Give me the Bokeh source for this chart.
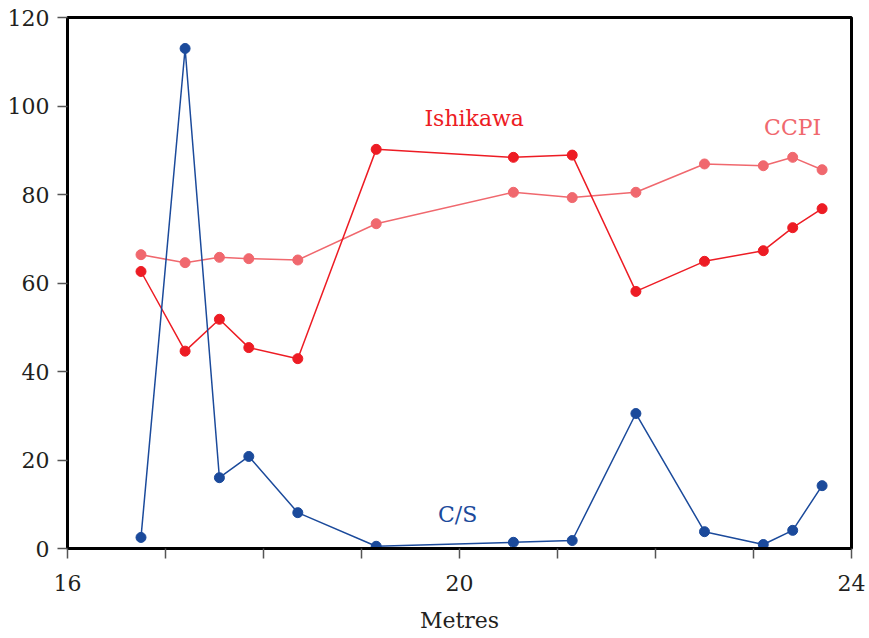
from bokeh.plotting import figure
from bokeh.models import FixedTicker, Label, Range1d
from bokeh.embed import file_html
from bokeh.resources import INLINE

depth = [16.75, 17.2, 17.55, 17.85, 18.35, 19.15, 20.55, 21.15, 21.8, 22.5, 23.1, 23.4, 23.7]
cs = [2.5, 113.0, 16.0, 20.8, 8.1, 0.5, 1.4, 1.8, 30.5, 3.8, 0.9, 4.1, 14.2]
ishikawa = [62.6, 44.6, 51.8, 45.4, 42.9, 90.2, 88.4, 88.9, 58.1, 64.9, 67.3, 72.5, 76.8]
ccpi = [66.4, 64.6, 65.8, 65.5, 65.2, 73.4, 80.5, 79.3, 80.5, 86.9, 86.5, 88.4, 85.6]

x_major = [16, 20, 24]
x_minor = [17, 18, 19, 21, 22, 23]
y_ticks = [0, 20, 40, 60, 80, 100, 120]

BLUE = "#1b4a9b"
RED = "#ed1c24"
PINK = "#f0686e"
FONT = "DejaVu Serif"
FS = "22px"
TXT = "#231f20"

p = figure(width=869, height=638, output_backend="svg", toolbar_location=None,
           x_range=Range1d(16, 24), y_range=Range1d(0, 120),
           min_border_left=67, min_border_right=18, min_border_top=17, min_border_bottom=90)

p.grid.visible = False
p.outline_line_color = "black"
p.outline_line_width = 3
p.background_fill_color = "white"
p.border_fill_color = "white"

for ax in (p.xaxis[0], p.yaxis[0]):
    ax.axis_line_color = "black"
    ax.axis_line_width = 3
    ax.major_tick_line_color = "#555555"
    ax.major_tick_line_width = 1.5
    ax.minor_tick_line_color = "#555555"
    ax.minor_tick_line_width = 1.5
    ax.major_tick_in = 0
    ax.major_tick_out = 10
    ax.minor_tick_in = 0
    ax.minor_tick_out = 10
    ax.major_label_text_font = FONT
    ax.major_label_text_font_size = FS
    ax.major_label_text_color = TXT
    ax.axis_label_text_font = FONT
    ax.axis_label_text_font_size = FS
    ax.axis_label_text_font_style = "normal"
    ax.axis_label_text_color = TXT

p.xaxis[0].ticker = FixedTicker(ticks=x_major, minor_ticks=x_minor)
p.yaxis[0].ticker = FixedTicker(ticks=y_ticks, minor_ticks=[])
p.yaxis[0].major_label_standoff = 8
p.xaxis[0].major_label_standoff = 16
p.xaxis[0].axis_label = "Metres"
p.xaxis[0].axis_label_standoff = 14

for ys, col in ((ccpi, PINK), (ishikawa, RED), (cs, BLUE)):
    p.line(depth, ys, line_color=col, line_width=1.5)
    p.scatter(depth, ys, size=10, fill_color=col, line_color=col)

labels = [("Ishikawa", 20.15, 97.2, RED), ("CCPI", 23.40, 95.1, PINK), ("C/S", 19.98, 7.7, BLUE)]
for t, x, y, c in labels:
    p.add_layout(Label(x=x, y=y, text=t, text_color=c, text_font=FONT,
                       text_font_size=FS, text_align="center", text_baseline="middle"))

open("out.html", "w").write(file_html(p, INLINE))
